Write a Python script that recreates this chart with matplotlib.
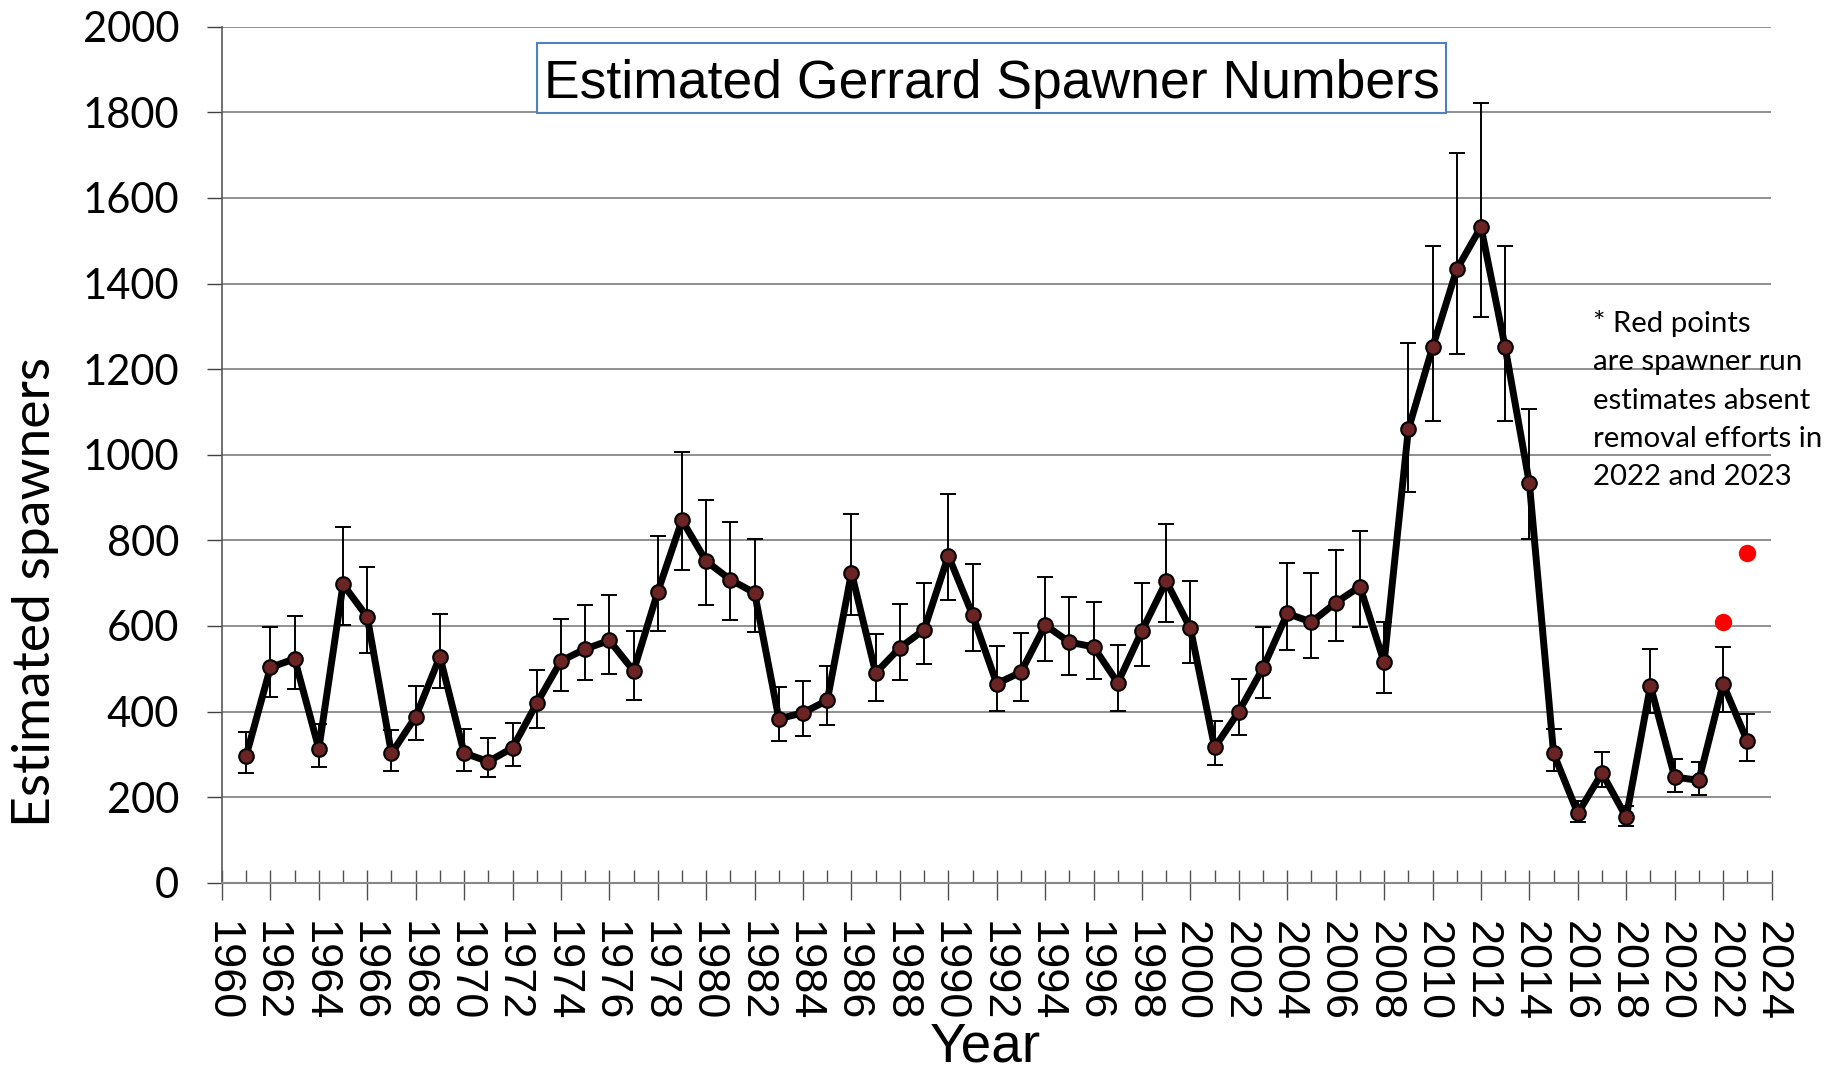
import matplotlib
matplotlib.use("Agg")
import matplotlib.pyplot as plt
from matplotlib.ticker import MultipleLocator
from matplotlib.patches import Rectangle
import numpy as np

years = list(range(1961, 2024))
spawners = [297, 503, 523, 313, 697, 621, 302, 388, 528, 303,
             283, 315, 419, 518, 546, 566, 495, 680, 847, 751,
             708, 677, 383, 397, 426, 724, 490, 549, 591, 764,
             626, 465, 492, 602, 562, 551, 467, 589, 704, 594,
             316, 400, 502, 629, 609, 654, 692, 515, 1059, 1251,
             1433, 1532, 1251, 933, 302, 162, 256, 153, 460, 247,
             239, 464, 331]
lower = [256, 433, 452, 270, 601, 537, 260, 334, 455, 262,
         246, 272, 362, 448, 473, 488, 426, 587, 731, 648,
         613, 585, 331, 343, 369, 626, 424, 473, 510, 660,
         542, 402, 424, 519, 485, 476, 402, 507, 609, 514,
         275, 346, 432, 543, 526, 565, 598, 444, 913, 1079,
         1236, 1322, 1079, 804, 262, 141, 223, 133, 397, 212,
         205, 400, 284]
upper = [352, 597, 624, 370, 830, 738, 356, 460, 628, 360,
         337, 374, 498, 616, 650, 672, 587, 810, 1007, 893,
         842, 803, 457, 472, 507, 862, 581, 652, 701, 909,
         744, 554, 583, 715, 668, 656, 555, 700, 838, 705,
         377, 475, 597, 747, 724, 778, 822, 610, 1260, 1488,
         1704, 1822, 1488, 1107, 358, 192, 305, 180, 547, 290,
         282, 551, 393]
red_years = [2022, 2023]
red_values = [609, 771]

title = "Estimated Gerrard Spawner Numbers"
note_lines = ["* Red points", "are spawner run", "estimates absent",
              "removal efforts in", "2022 and 2023"]

W, H = 1831, 1074
fig = plt.figure(figsize=(W / 100, H / 100), dpi=100)
ax = fig.add_axes([222 / W, 1 - 882.7 / H, (1771.5 - 222) / W, (882.7 - 26.7) / H])

y = np.array(spawners)
yerr = [y - np.array(lower), np.array(upper) - y]

ax.errorbar(years, spawners, yerr=yerr, fmt="none", ecolor="black",
            elinewidth=1.4, capsize=6, capthick=1.4, zorder=3)
ax.plot(years, spawners, color="black", lw=5, zorder=4,
        marker="o", markersize=10.5, markerfacecolor="#6B2424",
        markeredgecolor="black", markeredgewidth=1.5)
ax.plot(red_years, red_values, linestyle="none", marker="o",
        markersize=12.5, color="#FF0000", markeredgewidth=0, zorder=5)

ax.set_xlim(1960, 2024)
ax.set_ylim(0, 2000)
ax.yaxis.set_major_locator(MultipleLocator(200))
ax.xaxis.set_major_locator(MultipleLocator(2))
ax.xaxis.set_minor_locator(MultipleLocator(1))
ax.xaxis.remove_overlapping_locs = False

ax.grid(axis="y", color="#878787", lw=1.3, zorder=0)
ax.set_axisbelow(True)
for s in ["top", "right"]:
    ax.spines[s].set_visible(False)
ax.spines["left"].set_color("#595959")
ax.spines["left"].set_linewidth(1.2)
ax.spines["bottom"].set_color("#878787")
ax.spines["bottom"].set_linewidth(1.5)

ax.tick_params(axis="y", direction="out", length=10.8, width=1.0,
               color="#404040", pad=20, labelsize=30)
ax.tick_params(axis="x", which="major", direction="out", length=12.5,
               width=1.0, color="#505050", pad=15, labelsize=32.5,
               labelrotation=270)
ax.tick_params(axis="x", which="minor", direction="in", length=9.2,
               width=1.0, color="#505050")
for lab in ax.get_yticklabels():
    lab.set_fontfamily("Lato")
for lab in ax.get_xticklabels():
    lab.set_fontfamily("Liberation Sans")
    lab.set_verticalalignment("top")
    lab.set_horizontalalignment("center")

# title box
rect = Rectangle((537 / W, 1 - 113 / H), 909 / W, 70 / H,
                 transform=fig.transFigure, facecolor="white",
                 edgecolor="#4F81BD", lw=1.5, zorder=6, clip_on=False)
ax.add_patch(rect)
fig.text(991.5 / W, 1 - 97.6 / H, title, ha="center", va="baseline",
         fontsize=38.5, family="Liberation Sans", zorder=7)

# axis labels
fig.text(36 / W, 1 - 592 / H, "Estimated spawners", rotation=90,
         ha="center", va="center", fontsize=38.5, family="Lato")
fig.text(985 / W, 1 - 1062 / H, "Year", ha="center", va="baseline",
         fontsize=39.5, family="Liberation Sans")

# note
baselines = [331.7, 370.0, 409.0, 447.0, 485.0]
for line, b in zip(note_lines, baselines):
    fig.text(1593 / W, 1 - b / H, line, ha="left", va="baseline",
             fontsize=21.2, family="Lato")

fig.savefig("out.png", dpi=100)
